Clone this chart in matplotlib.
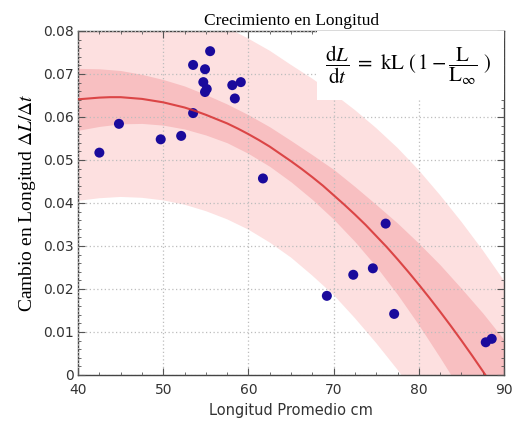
import matplotlib

matplotlib.use("Agg")
import matplotlib.pyplot as plt
from matplotlib.patches import Rectangle
from matplotlib.ticker import FuncFormatter, MultipleLocator

# Observed points (longitud promedio cm, cambio en longitud)
obs_x = [42.5, 44.8, 49.7, 52.1, 53.5, 53.5, 55.5, 54.9, 54.7, 54.9, 55.1,
         58.1, 59.1, 58.4, 61.7, 69.2, 72.3, 74.6, 76.1, 77.1, 87.85, 88.55]
obs_y = [0.0517, 0.0584, 0.0548, 0.0556, 0.0721, 0.0609, 0.0753, 0.0711,
         0.0681, 0.0658, 0.0665, 0.0674, 0.0681, 0.0643, 0.0457, 0.0184,
         0.0233, 0.0248, 0.0352, 0.0142, 0.0076, 0.0084]

# Fitted curve
curve_x = [40, 41.25, 42.5, 43.75, 45, 46.25, 47.5, 48.75, 50, 51.25, 52.5,
           53.75, 55, 56.25, 57.5, 58.75, 60, 61.25, 62.5, 63.75, 65, 66.25,
           67.5, 68.75, 70, 71.25, 72.5, 73.75, 75, 76.25, 77.5, 78.75, 80,
           81.25, 82.5, 83.75, 85, 86.25, 87.5, 88.75, 90]
curve_y = [0.0641, 0.0643, 0.0645, 0.0646, 0.0646, 0.0644, 0.0642, 0.0638,
           0.0634, 0.0628, 0.0622, 0.0614, 0.0605, 0.0595, 0.0585, 0.0573,
           0.0560, 0.0546, 0.0531, 0.0514, 0.0497, 0.0479, 0.0460, 0.0440,
           0.0418, 0.0396, 0.0373, 0.0349, 0.0323, 0.0297, 0.0269, 0.0240,
           0.0210, 0.0179, 0.0147, 0.0114, 0.0080, 0.0045, 0.0009, -0.0028,
           -0.0066]

# Confidence / prediction bands, read at these lengths
band_x = [40, 42.5, 45, 47.5, 50, 52.5, 55, 57.5, 60, 62.5, 65, 67.5, 70,
          72.5, 75, 77.5, 80, 82.5, 85, 87.5, 90]
inner_lo = [0.0569, 0.0578, 0.0584, 0.0585, 0.0581, 0.0572, 0.0558, 0.0540,
            0.0515, 0.0485, 0.0449, 0.0408, 0.0362, 0.0310, 0.0252, 0.0187,
            0.0116, 0.0040, -0.0039, -0.0124, -0.0214]
inner_hi = [0.0713, 0.0712, 0.0708, 0.0699, 0.0687, 0.0672, 0.0652, 0.0630,
            0.0605, 0.0577, 0.0545, 0.0512, 0.0478, 0.0438, 0.0396, 0.0353,
            0.0306, 0.0256, 0.0201, 0.0144, 0.0082]
outer_lo = [0.0405, 0.0411, 0.0414, 0.0412, 0.0406, 0.0396, 0.0381, 0.0362,
            0.0338, 0.0308, 0.0273, 0.0231, 0.0186, 0.0132, 0.0074, 0.0012,
            -0.0054, -0.0122, -0.0194, -0.0270, -0.0351]
outer_hi = [0.0877, 0.0879, 0.0878, 0.0872, 0.0862, 0.0848, 0.0829, 0.0808,
            0.0782, 0.0754, 0.0721, 0.0689, 0.0654, 0.0616, 0.0574, 0.0528,
            0.0476, 0.0418, 0.0356, 0.0290, 0.0219]

x_ticks = [40, 50, 60, 70, 80, 90]
y_ticks = [0, 0.01, 0.02, 0.03, 0.04, 0.05, 0.06, 0.07, 0.08]

plt.rcParams["mathtext.fontset"] = "stix"

fig = plt.figure(figsize=(5.17, 4.30), dpi=100)
ax = fig.add_axes([0.151, 0.128, 0.824, 0.800])

# bands
ax.fill_between(band_x, outer_lo, outer_hi, color="#fde0e0", lw=0, zorder=1)
ax.fill_between(band_x, inner_lo, inner_hi, color="#f8bfc1", lw=0, zorder=2)

# white box behind the formula
ax.add_patch(Rectangle((0.561, 0.80), 0.439, 0.20, transform=ax.transAxes,
                       facecolor="white", edgecolor="none", zorder=3))

ax.grid(True, which="major", color="#bdbdbd", linestyle=(0, (1, 2)),
        linewidth=0.9, zorder=4)
ax.set_axisbelow(False)

ax.scatter(obs_x, obs_y, s=52, color="#1a0a9c", edgecolors="none", zorder=5)
ax.plot(curve_x, curve_y, color="#d63030", lw=1.5, alpha=0.85, zorder=6,
        solid_joinstyle="round")

ax.text(0.775, 0.90,
        r"$\dfrac{\mathrm{d}L}{\mathrm{d}t}\ =\ \mathrm{kL}\ (\,1-\dfrac{\mathrm{L}}{\mathrm{L}_{\infty}}\ )$",
        transform=ax.transAxes, ha="center", va="center", fontsize=15,
        color="black", zorder=7)

ax.set_xlim(40, 90)
ax.set_ylim(0, 0.08)
ax.set_xticks(x_ticks)
ax.set_yticks(y_ticks)
ax.xaxis.set_minor_locator(MultipleLocator(2.5))
ax.yaxis.set_minor_locator(MultipleLocator(0.002))
ax.yaxis.set_major_formatter(FuncFormatter(lambda v, p: "0" if v == 0 else f"{v:.2f}"))
ax.tick_params(which="both", direction="in", top=True, right=True,
               color="#555555", labelsize=10, labelcolor="#333333")
ax.tick_params(which="major", length=5, width=0.8)
ax.tick_params(which="minor", length=2.5, width=0.6)
ax.tick_params(axis="y", pad=3)
ax.tick_params(axis="x", pad=6)
for s in ax.spines.values():
    s.set_color("#444444")
    s.set_linewidth(1.0)

ax.set_title("Crecimiento en Longitud", family="Liberation Serif",
             fontsize=12.5, pad=4)
ax.set_ylabel(r"Cambio en Longitud $\Delta L/\Delta t$", family="Liberation Serif",
              fontsize=14, labelpad=4)
ax.set_xlabel("Longitud Promedio cm", fontsize=10.5, color="#333333", labelpad=4)

fig.savefig("out.png", dpi=100)
